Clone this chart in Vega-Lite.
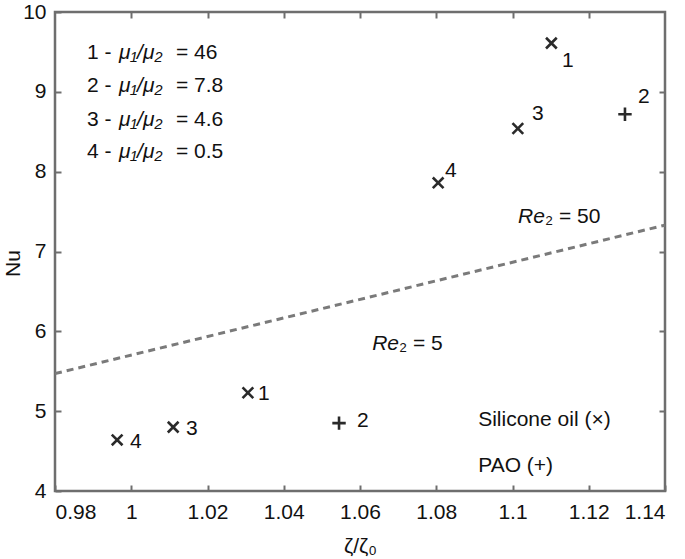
{
  "$schema": "https://vega.github.io/schema/vega-lite/v6.json",
  "width": 610,
  "height": 479,
  "autosize": {"type": "none"},
  "padding": {"left": 55, "top": 12, "right": 20, "bottom": 68},
  "background": "white",
  "config": {
    "font": "Liberation Sans",
    "view": {"stroke": "#6e6e6e", "strokeWidth": 2.5},
    "axis": {
      "domain": false,
      "grid": false,
      "tickColor": "#6e6e6e",
      "tickWidth": 2,
      "tickSize": -6,
      "labelFont": "Liberation Sans",
      "labelFontSize": 21,
      "labelColor": "#111",
      "titleFont": "Liberation Sans",
      "titleFontSize": 21,
      "titleFontWeight": "normal",
      "titleColor": "#111"
    },
    "text": {"font": "Liberation Sans", "fontSize": 21, "color": "#111"}
  },
  "datasets": {
    "silicone": [
      {"zeta": 1.1102, "nu": 9.61},
      {"zeta": 1.1014, "nu": 8.54},
      {"zeta": 1.0805, "nu": 7.86},
      {"zeta": 1.0306, "nu": 5.23},
      {"zeta": 1.011, "nu": 4.80},
      {"zeta": 0.9963, "nu": 4.64}
    ],
    "pao": [
      {"zeta": 1.1295, "nu": 8.72},
      {"zeta": 1.0545, "nu": 4.85}
    ],
    "boundary": [
      {"zeta": 0.98, "nu": 5.47},
      {"zeta": 1.14, "nu": 7.33}
    ],
    "pointLabels": [
      {"zeta": 1.11298, "nu": 9.311, "label": "1"},
      {"zeta": 1.10511, "nu": 8.647, "label": "3"},
      {"zeta": 1.0823, "nu": 7.932, "label": "4"},
      {"zeta": 1.13292, "nu": 8.86, "label": "2"},
      {"zeta": 1.03325, "nu": 5.138, "label": "1"},
      {"zeta": 1.01436, "nu": 4.699, "label": "3"},
      {"zeta": 0.99967, "nu": 4.536, "label": "4"},
      {"zeta": 1.05921, "nu": 4.799, "label": "2"}
    ],
    "legendRows": [
      {"zeta": 0.98839, "nu": 9.41, "lead": "1 -", "ratio": "μ₁/μ₂", "value": "= 46"},
      {"zeta": 0.98839, "nu": 9.0, "lead": "2 -", "ratio": "μ₁/μ₂", "value": "= 7.8"},
      {"zeta": 0.98839, "nu": 8.57, "lead": "3 -", "ratio": "μ₁/μ₂", "value": "= 4.6"},
      {"zeta": 0.98839, "nu": 8.17, "lead": "4 -", "ratio": "μ₁/μ₂", "value": "= 0.5"}
    ],
    "reLabels": [
      {"zeta": 1.10852, "nu": 7.356, "re": "Re", "rest": "₂ = 50"},
      {"zeta": 1.07023, "nu": 5.764, "re": "Re", "rest": "₂ = 5"}
    ],
    "fluidNotes": [
      {"zeta": 1.091, "nu": 4.812, "note": "Silicone oil (×)"},
      {"zeta": 1.091, "nu": 4.236, "note": "PAO (+)"}
    ]
  },
  "resolve": {"axis": {"x": "independent", "y": "independent"}},
  "layer": [
    {
      "data": {"name": "boundary"},
      "mark": {"type": "line", "color": "#7a7a7a", "strokeWidth": 3, "strokeDash": [7, 5], "clip": true},
      "encoding": {
        "x": {"field": "zeta", "type": "quantitative",
              "scale": {"domain": [0.98, 1.14], "nice": false, "zero": false},
              "axis": {"orient": "bottom", "values": [0.98, 1, 1.02, 1.04, 1.06, 1.08, 1.1, 1.12, 1.14], "format": "~g", "labelPadding": 16, "title": "ζ/ζ₀", "titleY": 44}},
        "y": {"field": "nu", "type": "quantitative",
              "scale": {"domain": [4, 10], "nice": false, "zero": false},
              "axis": {"orient": "left", "values": [4, 5, 6, 7, 8, 9, 10], "labelPadding": 15, "title": "Nu", "titleX": -32, "titleY": 251}}
      }
    },
    {
      "data": {"name": "silicone"},
      "mark": {"type": "point", "shape": "M-1,-1L1,1M-1,1L1,-1", "size": 115, "filled": false, "stroke": "#2a2a2a", "strokeWidth": 2.6, "opacity": 1},
      "encoding": {
        "x": {"field": "zeta", "type": "quantitative", "scale": {"domain": [0.98, 1.14], "nice": false, "zero": false},
              "axis": {"orient": "top", "values": [1, 1.02, 1.04, 1.06, 1.08, 1.1, 1.12], "labels": false, "title": null}},
        "y": {"field": "nu", "type": "quantitative", "scale": {"domain": [4, 10], "nice": false, "zero": false},
              "axis": {"orient": "right", "values": [5, 6, 7, 8, 9], "labels": false, "title": null}}
      }
    },
    {
      "data": {"name": "pao"},
      "mark": {"type": "point", "shape": "M-1,0L1,0M0,-1L0,1", "size": 180, "filled": false, "stroke": "#2a2a2a", "strokeWidth": 2.6, "opacity": 1},
      "encoding": {
        "x": {"field": "zeta", "type": "quantitative", "axis": null},
        "y": {"field": "nu", "type": "quantitative", "axis": null}
      }
    },
    {
      "data": {"name": "pointLabels"},
      "mark": {"type": "text", "align": "left", "baseline": "alphabetic"},
      "encoding": {
        "x": {"field": "zeta", "type": "quantitative", "axis": null},
        "y": {"field": "nu", "type": "quantitative", "axis": null},
        "text": {"field": "label"}
      }
    },
    {
      "data": {"name": "legendRows"},
      "mark": {"type": "text", "align": "left", "baseline": "alphabetic"},
      "encoding": {
        "x": {"field": "zeta", "type": "quantitative", "axis": null},
        "y": {"field": "nu", "type": "quantitative", "axis": null},
        "text": {"field": "lead"}
      }
    },
    {
      "data": {"name": "legendRows"},
      "mark": {"type": "text", "align": "left", "baseline": "alphabetic", "fontStyle": "italic", "dx": 32},
      "encoding": {
        "x": {"field": "zeta", "type": "quantitative", "axis": null},
        "y": {"field": "nu", "type": "quantitative", "axis": null},
        "text": {"field": "ratio"}
      }
    },
    {
      "data": {"name": "legendRows"},
      "mark": {"type": "text", "align": "left", "baseline": "alphabetic", "dx": 89},
      "encoding": {
        "x": {"field": "zeta", "type": "quantitative", "axis": null},
        "y": {"field": "nu", "type": "quantitative", "axis": null},
        "text": {"field": "value"}
      }
    },
    {
      "data": {"name": "reLabels"},
      "mark": {"type": "text", "align": "right", "baseline": "alphabetic", "fontStyle": "italic"},
      "encoding": {
        "x": {"field": "zeta", "type": "quantitative", "axis": null},
        "y": {"field": "nu", "type": "quantitative", "axis": null},
        "text": {"field": "re"}
      }
    },
    {
      "data": {"name": "reLabels"},
      "mark": {"type": "text", "align": "left", "baseline": "alphabetic"},
      "encoding": {
        "x": {"field": "zeta", "type": "quantitative", "axis": null},
        "y": {"field": "nu", "type": "quantitative", "axis": null},
        "text": {"field": "rest"}
      }
    },
    {
      "data": {"name": "fluidNotes"},
      "mark": {"type": "text", "align": "left", "baseline": "alphabetic"},
      "encoding": {
        "x": {"field": "zeta", "type": "quantitative", "axis": null},
        "y": {"field": "nu", "type": "quantitative", "axis": null},
        "text": {"field": "note"}
      }
    }
  ]
}
